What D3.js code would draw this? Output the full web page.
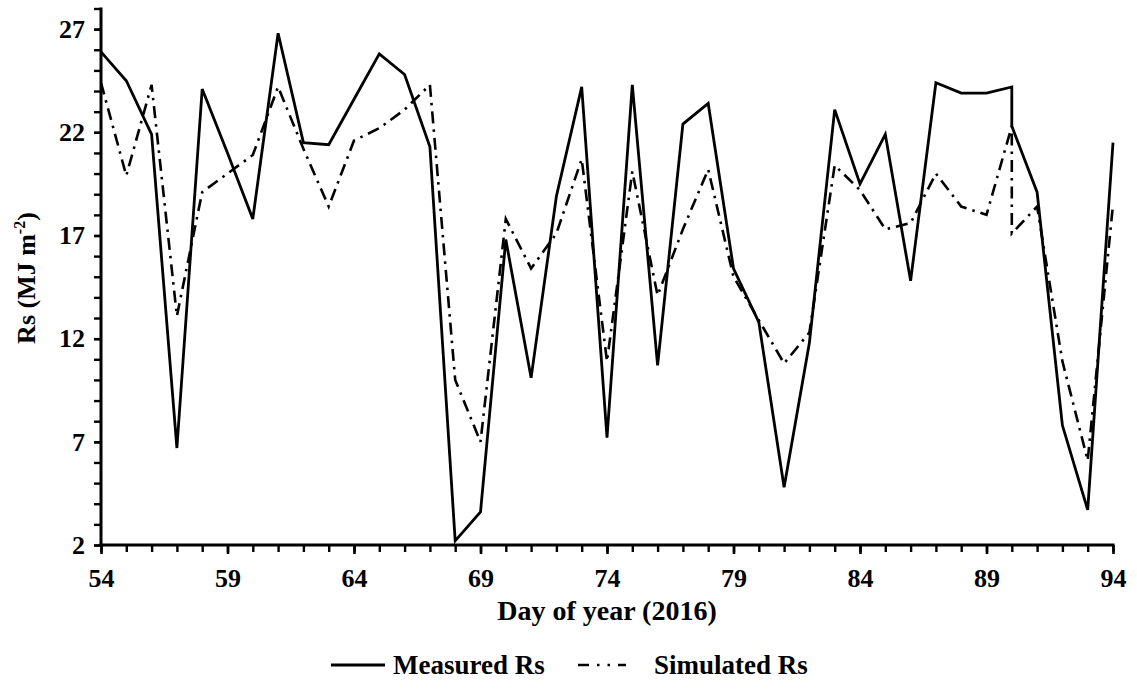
<!DOCTYPE html>
<html><head><meta charset="utf-8">
<script src="https://cdn.jsdelivr.net/npm/d3@7"></script>
<style>
body{margin:0;background:#fff;}
text{font-family:"Liberation Serif","Times New Roman",serif;font-weight:bold;fill:#000;}
</style></head>
<body><svg id="c" width="1137" height="695"></svg>
<script>
// Day of year (2016); day 90 appears twice in the source data
const days = [54,55,56,57,58,59,60,61,62,63,64,65,66,67,68,69,70,71,72,73,74,75,76,77,78,79,80,81,82,83,84,85,86,87,88,89,90,90,91,92,93,94];
const measured = [25.9,24.5,21.9,6.7,24.1,21.0,17.8,26.8,21.5,21.4,23.6,25.8,24.8,21.3,2.2,3.6,16.8,10.1,18.9,24.2,7.2,24.3,10.7,22.4,23.4,15.4,12.8,4.8,11.8,23.1,19.5,21.9,14.8,24.4,23.9,23.9,24.2,22.3,19.1,7.8,3.7,21.5];
const simulated = [24.4,19.9,24.3,13.1,19.1,20.0,20.9,24.2,21.2,18.4,21.6,22.2,23.1,24.3,10.0,7.0,17.8,15.4,17.1,20.7,10.9,20.1,14.1,17.3,20.2,15.0,12.9,10.8,12.3,20.4,19.2,17.3,17.6,20.0,18.4,18.0,22.3,17.1,18.4,10.9,6.1,18.5];
const xTickLabels = [54,59,64,69,74,79,84,89,94];
const yTickLabels = [2,7,12,17,22,27];
const seriesNames = ["Measured Rs","Simulated Rs"];

const svg = d3.select("#c");
const x = d3.scaleLinear().domain([54,94]).range([101,1113]);
const y = d3.scaleLinear().domain([2,28]).range([545,8.5]);
const dash = "12,6,2.5,6";

// data lines
const line = d3.line().x((d,i)=>x(days[i])).y(d=>y(d));
svg.append("path").datum(simulated).attr("d",line)
  .attr("fill","none").attr("stroke","#000").attr("stroke-width",2.6)
  .attr("stroke-dasharray",dash);
svg.append("path").datum(measured).attr("d",line)
  .attr("fill","none").attr("stroke","#000").attr("stroke-width",2.8)
  .attr("stroke-linejoin","miter");

// x axis
const gx = svg.append("g").attr("transform","translate(0,545)");
gx.append("g").call(d3.axisBottom(x).tickValues(d3.range(54,95,1)).tickSize(7).tickFormat(""))
  .call(g=>{g.select(".domain").remove();g.selectAll("line").attr("stroke-width",2.4);});
gx.append("g").call(d3.axisBottom(x).tickValues(xTickLabels).tickSize(9).tickPadding(15).tickFormat(d3.format("d")))
  .call(g=>{g.select(".domain").remove();g.selectAll("line").attr("stroke-width",2.6);
    g.selectAll("text").style("font-size","26px").style("font-family","Liberation Serif").style("font-weight","bold");});
gx.append("line").attr("x1",x(54)-1.5).attr("x2",x(94)+1.5).attr("stroke","#000").attr("stroke-width",3);

// y axis
const gy = svg.append("g").attr("transform","translate(101,0)");
gy.append("g").call(d3.axisLeft(y).tickValues(d3.range(2,29,1)).tickSize(7).tickFormat(""))
  .call(g=>{g.select(".domain").remove();g.selectAll("line").attr("stroke-width",2.4);});
gy.append("g").call(d3.axisLeft(y).tickValues(yTickLabels).tickSize(7).tickPadding(9).tickFormat(d3.format("d")))
  .call(g=>{g.select(".domain").remove();g.selectAll("line").attr("stroke-width",2.4);
    g.selectAll("text").style("font-size","26px").style("font-family","Liberation Serif").style("font-weight","bold");});
gy.append("line").attr("y1",y(2)+1.5).attr("y2",y(28)-1).attr("stroke","#000").attr("stroke-width",3);

// axis titles
svg.append("text").attr("x",607).attr("y",620).attr("text-anchor","middle")
  .style("font-size","28px").text("Day of year (2016)");
const yl = svg.append("text").attr("transform","translate(35,278) rotate(-90)").attr("text-anchor","middle")
  .style("font-size","26px");
yl.append("tspan").text("Rs (MJ m");
yl.append("tspan").attr("dy",-10).style("font-size","16px").text("-2");
yl.append("tspan").attr("dy",10).text(")");

// legend
const lg = svg.append("g");
lg.append("line").attr("x1",331).attr("x2",385).attr("y1",665).attr("y2",665)
  .attr("stroke","#000").attr("stroke-width",2.8);
lg.append("text").attr("x",393).attr("y",674).style("font-size","27px").text(seriesNames[0]);
lg.append("line").attr("x1",578).attr("x2",626).attr("y1",665).attr("y2",665)
  .attr("stroke","#000").attr("stroke-width",2.6).attr("stroke-dasharray","11,8,2.5,8,2.5,8,11");
lg.append("text").attr("x",654).attr("y",674).style("font-size","27px").text(seriesNames[1]);
</script></body></html>
